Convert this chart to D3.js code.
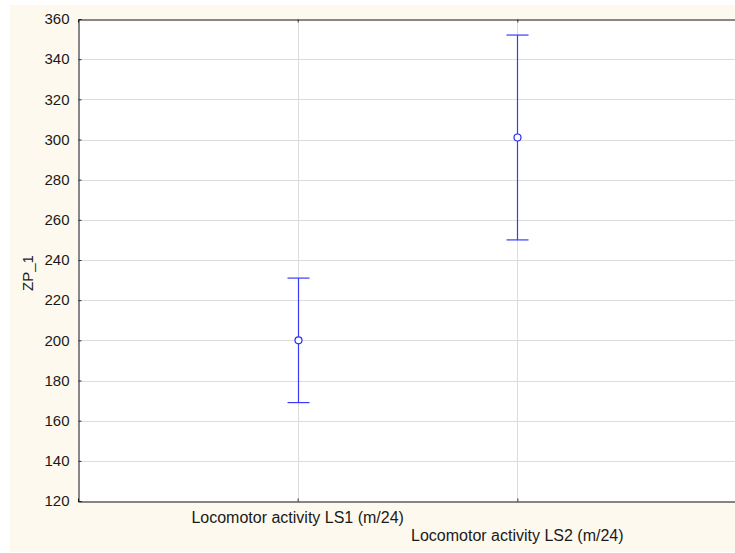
<!DOCTYPE html>
<html>
<head>
<meta charset="utf-8">
<script src="https://cdn.jsdelivr.net/npm/d3@7"></script>
<style>
  html, body { margin: 0; padding: 0; background: #ffffff; }
  svg { display: block; }
  text { font-family: "Liberation Sans", Arial, sans-serif; fill: #1a1a1a; }
</style>
</head>
<body>
<svg id="chart" width="735" height="553"></svg>
<script>
// Group means with their error limits
const categories = ["Locomotor activity LS1 (m/24)", "Locomotor activity LS2 (m/24)"];
const means = [200, 301];
const lower = [169, 250];
const upper = [231, 352];
const yTicks = [120, 140, 160, 180, 200, 220, 240, 260, 280, 300, 320, 340, 360];
const yLabel = "ZP_1";

const svg = d3.select("#chart");
const W = 735, H = 553;
const plot = { left: 78, top: 19, right: 737, bottom: 501 };

// page background
svg.append("rect").attr("x", 10).attr("y", 5).attr("width", W - 10).attr("height", H - 6)
  .attr("fill", "#fef9ee");
svg.append("rect").attr("x", plot.left).attr("y", plot.top)
  .attr("width", plot.right - plot.left).attr("height", plot.bottom - plot.top)
  .attr("fill", "#ffffff");

const x = d3.scalePoint().domain(categories).range([plot.left, plot.right]).padding(1);
const y = d3.scaleLinear().domain([120, 360]).range([plot.bottom, plot.top]);

// grid
const grid = svg.append("g").attr("stroke", "#dcdcdc").attr("stroke-width", 1);
grid.selectAll("line.h").data(yTicks.slice(1, -1)).join("line")
  .attr("x1", plot.left).attr("x2", plot.right)
  .attr("y1", d => Math.round(y(d)) + 0.5).attr("y2", d => Math.round(y(d)) + 0.5);
grid.selectAll("line.v").data(categories).join("line")
  .attr("x1", d => Math.round(x(d)) + 0.5).attr("x2", d => Math.round(x(d)) + 0.5)
  .attr("y1", plot.top).attr("y2", plot.bottom);

// axes
const yAxis = d3.axisLeft(y).tickValues(yTicks).tickSize(-3).tickPadding(8);
const gy = svg.append("g").attr("transform", `translate(${plot.left + 0.5},0)`).call(yAxis);
gy.select(".domain").attr("stroke", "#111");
gy.selectAll(".tick line").attr("stroke", "#333");
gy.selectAll(".tick text").attr("font-size", 15).attr("fill", "#1a1a1a")
  .attr("font-family", "'Liberation Sans', Arial, sans-serif").attr("dx", -1);

const xAxis = d3.axisBottom(x).tickSize(-3).tickFormat("");
const gx = svg.append("g").attr("transform", `translate(0,${plot.bottom + 0.5})`).call(xAxis);
gx.select(".domain").attr("stroke", "#111");
gx.selectAll(".tick line").attr("stroke", "#333");

const xTop = d3.axisTop(x).tickSize(-3).tickFormat("");
const gt = svg.append("g").attr("transform", `translate(0,${plot.top + 0.5})`).call(xTop);
gt.select(".domain").attr("stroke", "#111");
gt.selectAll(".tick line").attr("stroke", "#333");

// staggered category labels
svg.selectAll("text.cat").data(categories).join("text")
  .attr("class", "cat")
  .attr("x", d => x(d))
  .attr("y", (d, i) => i === 0 ? 523 : 541)
  .attr("text-anchor", "middle")
  .attr("font-size", 16)
  .text(d => d);

// y axis title
svg.append("text")
  .attr("transform", `translate(33,${(plot.top + plot.bottom) / 2 + 13}) rotate(-90)`)
  .attr("text-anchor", "middle")
  .attr("font-size", 15)
  .text(yLabel);

// error bars
const data = categories.map((c, i) => ({ c, m: means[i], lo: lower[i], hi: upper[i] }));
const eb = svg.append("g").attr("stroke", "#3a3aff").attr("stroke-width", 1.2).attr("fill", "none");
const cap = 11;
data.forEach(d => {
  const cx = Math.round(x(d.c)) + 0.5;
  eb.append("line").attr("x1", cx).attr("x2", cx).attr("y1", y(d.hi)).attr("y2", y(d.lo));
  eb.append("line").attr("x1", cx - cap).attr("x2", cx + cap).attr("y1", y(d.hi)).attr("y2", y(d.hi));
  eb.append("line").attr("x1", cx - cap).attr("x2", cx + cap).attr("y1", y(d.lo)).attr("y2", y(d.lo));
  eb.append("circle").attr("cx", cx).attr("cy", y(d.m)).attr("r", 3.5)
    .attr("fill", "#ffffff").attr("stroke", "#2a2aff");
});
</script>
</body>
</html>
